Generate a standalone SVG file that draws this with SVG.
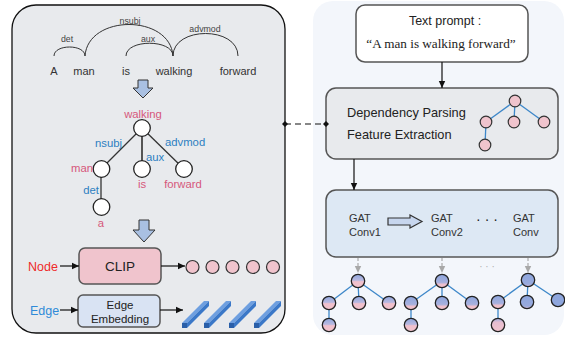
<svg xmlns="http://www.w3.org/2000/svg" width="565" height="339" viewBox="0 0 565 339">
<style>
text{font-family:"Liberation Sans",Arial,sans-serif}
.word{font-size:11px;fill:#333}
.arclab{font-size:8.8px;fill:#444}
.arc{fill:none;stroke:#333;stroke-width:1}
.pk{font-size:11.3px;fill:#d6577b}
.bl{font-size:11.3px;fill:#2d7fc1}
.tn{fill:#fff;stroke:#222;stroke-width:1.3}
.tl{stroke:#333;stroke-width:1.3}
.box{stroke:#555;stroke-width:1.5}
.lbl{font-size:12.8px;fill:#222}
.ln{stroke:#111;stroke-width:1.2;fill:none}
.pc{fill:#f0c4cd;stroke:#333;stroke-width:1.2}
.bt{stroke:#3d87c9;stroke-width:1.3}
.gat{font-size:11px;fill:#333}
.gd{stroke:#b0b0b0;stroke-width:1.3;stroke-dasharray:3,2}
.bar1{fill:#2a5fa8}.bar2{fill:#6e9fe0}.bar3{fill:#3b78c8}
.gn{stroke:#222;stroke-width:1.3}
</style>
<defs>
<marker id="ah" markerWidth="8" markerHeight="8" refX="7" refY="4" orient="auto" markerUnits="userSpaceOnUse"><path d="M0,0.8 L7,4 L0,7.2 Z" fill="#111"/></marker>
<marker id="ahg" markerWidth="8" markerHeight="8" refX="7" refY="4" orient="auto" markerUnits="userSpaceOnUse"><path d="M0,0.8 L7,4 L0,7.2 Z" fill="#a8a8a8"/></marker>
<marker id="dm" markerWidth="6" markerHeight="6" refX="3" refY="3" orient="auto" markerUnits="userSpaceOnUse"><path d="M0,3 L3,0 L6,3 L3,6 Z" fill="#111"/></marker>
<linearGradient id="g1" x1="0" y1="0" x2="0" y2="1"><stop offset="0" stop-color="#8ea6dd"/><stop offset="0.45" stop-color="#b9b9e0"/><stop offset="0.55" stop-color="#f0c0cc"/><stop offset="1" stop-color="#f2c4ce"/></linearGradient>
<linearGradient id="g2" x1="0" y1="0" x2="0" y2="1"><stop offset="0" stop-color="#8ea6dd"/><stop offset="0.6" stop-color="#a6b0de"/><stop offset="0.75" stop-color="#eebfcc"/><stop offset="1" stop-color="#f2c4ce"/></linearGradient>
<linearGradient id="g3" x1="0" y1="0" x2="0" y2="1"><stop offset="0" stop-color="#8ea6dd"/><stop offset="0.8" stop-color="#98aadd"/><stop offset="1" stop-color="#d8b8d6"/></linearGradient>
<linearGradient id="g4" x1="0" y1="0" x2="0" y2="1"><stop offset="0" stop-color="#9aaade"/><stop offset="0.3" stop-color="#e6bdd0"/><stop offset="1" stop-color="#f2c4ce"/></linearGradient>
<linearGradient id="g5" x1="0" y1="0" x2="0" y2="1"><stop offset="0" stop-color="#8ea6dd"/><stop offset="1" stop-color="#8ea6dd"/></linearGradient>
</defs>

<!-- panels -->
<g id="leftPanel">
<rect x="12" y="5" width="273" height="328" rx="24" fill="#e8eaed" stroke="#111" stroke-width="1.3"/>
</g>
<g id="rightPanel">
<rect x="313" y="1" width="251" height="334" rx="20" fill="#f3f6fb"/>
</g>

<!-- dependency sentence -->
<g id="sentence">
<path class="arc" d="M54,56 C54,44 85,44 85,56"/>
<path class="arc" d="M85,56 C88,14 170,14 173,56"/>
<path class="arc" d="M126,56 C126,39 173,39 173,56"/>
<path class="arc" d="M173,56 C173,26 238,26 238,56"/>
<text class="arclab" x="67" y="42" text-anchor="middle">det</text>
<text class="arclab" x="130" y="24" text-anchor="middle">nsubj</text>
<text class="arclab" x="148" y="42" text-anchor="middle">aux</text>
<text class="arclab" x="205" y="32" text-anchor="middle">advmod</text>
<text class="word" x="54" y="75" text-anchor="middle">A</text>
<text class="word" x="84" y="75" text-anchor="middle">man</text>
<text class="word" x="126" y="75" text-anchor="middle">is</text>
<text class="word" x="174" y="75" text-anchor="middle">walking</text>
<text class="word" x="238" y="75" text-anchor="middle">forward</text>
</g>

<g id="downArrow1">
<path d="M138,80 H148 V88 H153 L143,98 L133,88 H138 Z" fill="#a9c0e2" stroke="#333" stroke-width="1"/>
</g>

<!-- tree -->
<g id="depTree">
<line class="tl" x1="142" y1="128" x2="101" y2="169"/>
<line x1="142" y1="128" x2="142" y2="169" stroke="#555" stroke-width="2"/>
<line class="tl" x1="142" y1="128" x2="184" y2="169"/>
<line class="tl" x1="101" y1="169" x2="101" y2="207"/>
<circle class="tn" cx="142" cy="128" r="8.3"/>
<circle class="tn" cx="101.5" cy="169" r="8.3"/>
<circle class="tn" cx="142" cy="169" r="8.3"/>
<circle class="tn" cx="184" cy="169" r="8.3"/>
<circle class="tn" cx="101.5" cy="207" r="8.3"/>
<text class="pk" x="143" y="118" text-anchor="middle">walking</text>
<text class="bl" x="122" y="147" text-anchor="end">nsubj</text>
<text class="bl" x="165" y="146">advmod</text>
<text class="bl" x="146" y="161">aux</text>
<text class="pk" x="93" y="172" text-anchor="end">man</text>
<text class="pk" x="142" y="188" text-anchor="middle">is</text>
<text class="pk" x="183" y="188" text-anchor="middle">forward</text>
<text class="bl" x="91" y="194" text-anchor="middle">det</text>
<text class="pk" x="101" y="227" text-anchor="middle">a</text>
</g>

<g id="downArrow2">
<path d="M139,220 H149 V230 H155 L144,242 L133,230 H139 Z" fill="#a9c0e2" stroke="#333" stroke-width="1"/>
</g>

<g id="clip">
<rect class="box" x="79" y="248" width="82" height="36" rx="6" fill="#f0c4cd"/>
<text x="120" y="271" font-size="13.5" fill="#222" text-anchor="middle">CLIP</text>
</g>
<g id="nodeLabel"><text x="28" y="271" font-size="12.5" fill="#ee2a2a">Node</text></g>
<g id="nodeFeatures">
<circle class="pc" cx="192.5" cy="267" r="6.5"/>
<circle class="pc" cx="212.5" cy="267" r="6.5"/>
<circle class="pc" cx="232.5" cy="267" r="6.5"/>
<circle class="pc" cx="253" cy="267" r="6.5"/>
<circle class="pc" cx="273" cy="267" r="6.5"/>
</g>

<g id="edgeEmb">
<rect class="box" x="78" y="295" width="82" height="32" rx="5" fill="#d9e3f3"/>
<text x="120" y="309" font-size="11.5" fill="#222" text-anchor="middle">Edge</text>
<text x="120" y="323" font-size="11.5" fill="#222" text-anchor="middle">Embedding</text>
</g>
<g id="edgeLabel"><text x="30" y="315" font-size="12.5" fill="#2f8ad8">Edge</text></g>
<g id="edgeFeatures">
<g transform="translate(0,0)">
<polygon class="bar2" points="182,323 187,323 209,301 204,301"/>
<polygon class="bar3" points="187,323 187,328 209,306 209,301"/>
<rect class="bar1" x="182" y="323" width="5" height="5"/>
</g>
<g transform="translate(22,0)">
<polygon class="bar2" points="182,323 187,323 209,301 204,301"/>
<polygon class="bar3" points="187,323 187,328 209,306 209,301"/>
<rect class="bar1" x="182" y="323" width="5" height="5"/>
</g>
<g transform="translate(47,0)">
<polygon class="bar2" points="182,323 187,323 209,301 204,301"/>
<polygon class="bar3" points="187,323 187,328 209,306 209,301"/>
<rect class="bar1" x="182" y="323" width="5" height="5"/>
</g>
<g transform="translate(72,0)">
<polygon class="bar2" points="182,323 187,323 209,301 204,301"/>
<polygon class="bar3" points="187,323 187,328 209,306 209,301"/>
<rect class="bar1" x="182" y="323" width="5" height="5"/>
</g>
</g>

<!-- right side -->
<g id="textPrompt">
<rect class="box" x="356" y="5" width="172" height="57" rx="9" fill="#fff"/>
<text x="445" y="25" font-size="12.5" fill="#222" text-anchor="middle">Text prompt :</text>
<text x="441" y="48" font-size="13.2" fill="#222" text-anchor="middle" style="font-family:'Liberation Serif','Times New Roman',serif">“A man is walking forward”</text>
</g>

<g id="depParsing">
<rect class="box" x="326" y="88" width="232" height="71" rx="10" fill="#e8eaed"/>
<text class="lbl" x="347" y="117">Dependency Parsing</text>
<text class="lbl" x="347" y="139">Feature Extraction</text>
<line class="bt" x1="515" y1="101" x2="486" y2="122"/>
<line class="bt" x1="515" y1="101" x2="514" y2="122"/>
<line class="bt" x1="515" y1="101" x2="544" y2="122"/>
<line class="bt" x1="486" y1="122" x2="485" y2="145"/>
<circle class="pc" cx="515" cy="101" r="5.8"/>
<circle class="pc" cx="486" cy="122" r="5.8"/>
<circle class="pc" cx="514" cy="122" r="5.8"/>
<circle class="pc" cx="544" cy="122" r="5.8"/>
<circle class="pc" cx="485" cy="145" r="5.8"/>
</g>

<g id="gat">
<rect class="box" x="326" y="190" width="232" height="67" rx="10" fill="#dde8f4"/>
<text class="gat" x="349" y="222">GAT</text>
<text class="gat" x="349" y="236">Conv1</text>
<path d="M388,218 H410 V215 L422,221.5 L410,228 V225 H388 Z" fill="#c7d6ee" stroke="#333" stroke-width="1.2"/>
<text class="gat" x="431" y="222">GAT</text>
<text class="gat" x="431" y="236">Conv2</text>
<text x="487" y="224" font-size="14" fill="#222" text-anchor="middle">· · ·</text>
<text class="gat" x="513" y="222">GAT</text>
<text class="gat" x="513" y="236">Conv</text>
</g>

<g id="outTree1">
<line class="bt" x1="358" y1="281" x2="329" y2="303"/>
<line class="bt" x1="358" y1="281" x2="359" y2="303"/>
<line class="bt" x1="358" y1="281" x2="389" y2="303"/>
<line class="bt" x1="329" y1="303" x2="329" y2="325"/>
<circle class="gn" fill="url(#g1)" cx="358" cy="281" r="6.7"/>
<circle class="gn" fill="url(#g1)" cx="329" cy="303" r="6.7"/>
<circle class="gn" fill="url(#g1)" cx="359" cy="303" r="6.7"/>
<circle class="gn" fill="url(#g1)" cx="389" cy="303" r="6.7"/>
<circle class="gn" fill="url(#g1)" cx="329" cy="325" r="6.7"/>
</g>
<g id="outTree2">
<line class="bt" x1="442" y1="281" x2="411" y2="303"/>
<line class="bt" x1="442" y1="281" x2="442" y2="303"/>
<line class="bt" x1="442" y1="281" x2="472" y2="303"/>
<line class="bt" x1="411" y1="303" x2="411" y2="325"/>
<circle class="gn" fill="url(#g2)" cx="442" cy="281" r="6.7"/>
<circle class="gn" fill="url(#g2)" cx="411" cy="303" r="6.7"/>
<circle class="gn" fill="url(#g2)" cx="442" cy="303" r="6.7"/>
<circle class="gn" fill="url(#g2)" cx="472" cy="303" r="6.7"/>
<circle class="gn" fill="url(#g1)" cx="411" cy="325" r="6.7"/>
</g>
<g id="outTree3">
<line class="bt" x1="528" y1="280" x2="498" y2="302"/>
<line class="bt" x1="528" y1="280" x2="527" y2="302"/>
<line class="bt" x1="528" y1="280" x2="558" y2="300"/>
<line class="bt" x1="498" y1="302" x2="498" y2="325"/>
<circle class="gn" fill="url(#g3)" cx="528" cy="280" r="6.7"/>
<circle class="gn" fill="url(#g2)" cx="498" cy="302" r="6.7"/>
<circle class="gn" fill="url(#g3)" cx="527" cy="302" r="6.7"/>
<circle class="gn" fill="url(#g5)" cx="558" cy="300" r="6.7"/>
<circle class="gn" fill="url(#g4)" cx="498" cy="325" r="6.7"/>
</g>

<!-- connectors -->
<g id="connectors">
<line x1="285" y1="124" x2="326" y2="124" stroke="#111" stroke-width="1.2" stroke-dasharray="6,4" marker-start="url(#dm)" marker-end="url(#dm)"/>
<line class="ln" x1="60" y1="266" x2="79" y2="266" marker-end="url(#ah)"/>
<line class="ln" x1="161" y1="266" x2="185" y2="266" marker-end="url(#ah)"/>
<line class="ln" x1="60" y1="310" x2="78" y2="310" marker-end="url(#ah)"/>
<line class="ln" x1="160" y1="310" x2="183" y2="310" marker-end="url(#ah)"/>
<line class="ln" x1="442" y1="62" x2="442" y2="88" marker-end="url(#ah)"/>
<line class="ln" x1="354" y1="159" x2="354" y2="190" marker-end="url(#ah)"/>
<line class="gd" x1="358" y1="258" x2="358" y2="273" marker-end="url(#ahg)"/>
<line class="gd" x1="442" y1="258" x2="442" y2="273" marker-end="url(#ahg)"/>
<line class="gd" x1="528" y1="258" x2="528" y2="273" marker-end="url(#ahg)"/>
<text x="487" y="270" font-size="10" fill="#b0b0b0" text-anchor="middle">· · ·</text>
</g>
</svg>
